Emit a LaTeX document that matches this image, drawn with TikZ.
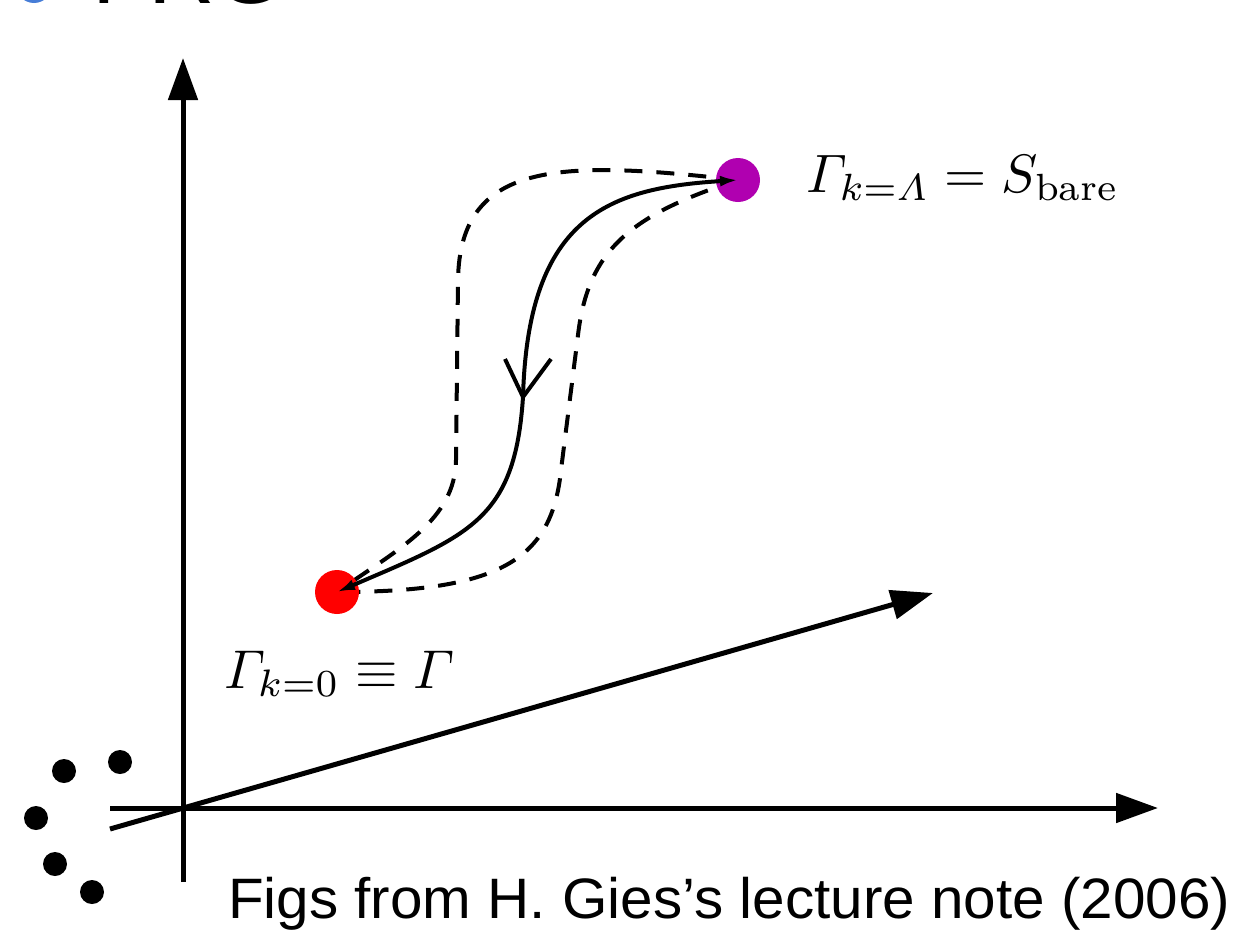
\documentclass[tikz,border=0pt]{standalone}
\usepackage{amsmath}
\usepackage{fontspec}
\usetikzlibrary{arrows.meta}
\newfontfamily\capfont{Liberation Sans}
\definecolor{titleblue}{RGB}{70,125,215}
\definecolor{lamcol}{RGB}{176,0,176}
\begin{document}
\begin{tikzpicture}[x=1pt,y=-1pt,
  axis/.style={line width=5pt,-{Triangle[length=42pt,width=29pt]}},
  flow/.style={line width=4pt},
  dashflow/.style={line width=4pt,dash pattern=on 18pt off 14pt},
  dot/.style={circle,fill=black,inner sep=0pt,minimum size=24pt},
  bigdot/.style={circle,inner sep=0pt,minimum size=44pt},
  lbl/.style={inner sep=0pt}]
\useasboundingbox (0,0) rectangle (1240,937);
% cut-off title at the top
\fill[titleblue] (34,-15) circle (18);
\node[anchor=base west,inner sep=0pt,font=\capfont\fontsize{92}{92}\selectfont] (title) at (92,3) {FRG};
% axes
\coordinate (o) at (183,808);
\coordinate (vb) at (183,882);
\coordinate (vt) at (183,58);
\coordinate (hb) at (110,808);
\coordinate (ht) at (1158,808);
\coordinate (db) at (110,829);
\coordinate (dt) at (933,593);
\draw[axis] (vb) -- (vt);
\draw[axis] (hb) -- (ht);
\draw[axis] (db) -- (dt);
% dots
\node[dot] (d1) at (64,771) {};
\node[dot] (d2) at (120,762) {};
\node[dot] (d3) at (36,818) {};
\node[dot] (d4) at (55,864) {};
\node[dot] (d5) at (92,892) {};
% flow
\coordinate (P) at (738,180);
\coordinate (R) at (337,592);
\coordinate (M) at (523,397);
\draw[dashflow] (P) .. controls (560,160) and (460,160) .. (458,280) -- (456,460) .. controls (455,520) and (400,548) .. (R);
\draw[dashflow] (P) .. controls (630,215) and (588,250) .. (578,335) -- (561,470) .. controls (552,560) and (500,592) .. (R);
\node[bigdot,fill=lamcol] (pd) at (P) {};
\node[bigdot,fill=red] (rd) at (R) {};
\draw[flow,{Latex[length=18pt,width=11pt]}-] (P) .. controls (610,188) and (528,215) .. (M);
\draw[flow,-{Latex[length=18pt,width=11pt]}] (M) .. controls (515,520) and (470,535) .. (R);
\coordinate (al) at (505,359);
\coordinate (ar) at (551,359);
\draw[flow,line join=miter] (al) -- (M) -- (ar);
% labels
\node[lbl,anchor=base west] (top) at (806,192) {\resizebox{313pt}{!}{$\varGamma_{k=\varLambda} = S_{\mathrm{bare}}$}};
\node[lbl,anchor=base west] (bot) at (224,688) {\resizebox{230pt}{!}{$\varGamma_{k=0} \equiv \varGamma$}};
\node[anchor=base west,inner sep=0pt] (cap) at (228,918) {\resizebox{1002pt}{\height}{\capfont\fontsize{57}{57}\selectfont Figs from H. Gies’s lecture note (2006)}};
\end{tikzpicture}
\end{document}
